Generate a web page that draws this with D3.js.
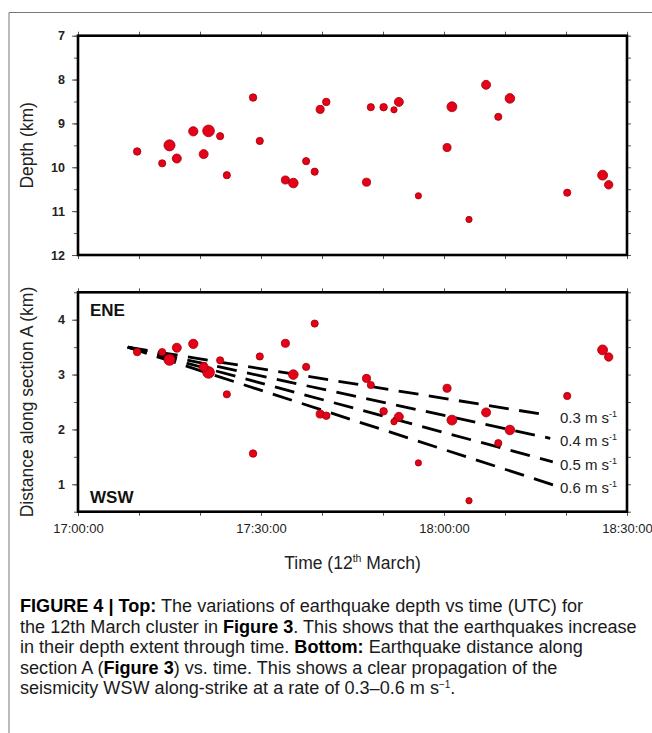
<!DOCTYPE html>
<html><head><meta charset="utf-8">
<script src="https://cdn.jsdelivr.net/npm/d3@7"></script>
<style>
body{margin:0;background:#fff}
svg{display:block;font-family:"Liberation Sans",Arial,Helvetica,sans-serif}
</style>
</head><body>
<svg id="c" width="652" height="733"></svg>
<script>
// ---- data ----
const times = ["17:09:42","17:13:48","17:15:00","17:16:12","17:18:54","17:21:24","17:20:36","17:23:18","17:24:24","17:28:42","17:29:48","17:34:00","17:35:18","17:37:24","17:38:48","17:39:42","17:40:42","17:47:18","17:48:00","17:50:06","17:51:48","17:52:36","17:55:48","18:00:30","18:01:18","18:04:06","18:06:54","18:08:54","18:10:48","18:20:12","18:26:00","18:27:00"];
const depths = [9.64,9.91,9.50,9.80,9.18,9.17,9.70,9.29,10.18,8.41,9.40,10.29,10.36,9.86,10.10,8.68,8.51,10.34,8.63,8.63,8.69,8.51,10.65,9.55,8.62,11.19,8.12,8.85,8.43,10.58,10.18,10.40];
const distances = [3.41,3.41,3.27,3.49,3.56,3.04,3.14,3.26,2.64,1.56,3.33,3.57,3.00,3.14,3.93,2.28,2.25,2.93,2.81,2.33,2.14,2.23,1.39,2.75,2.17,0.70,2.31,1.75,1.99,2.61,3.45,3.32];
const mags = [1.5,1.4,2.7,2.0,2.1,2.9,2.0,1.4,1.4,1.5,1.4,1.7,2.2,1.4,1.4,1.7,1.5,1.7,1.4,1.5,1.1,2.0,1.1,1.7,2.3,1.1,2.0,1.4,2.2,1.4,2.3,1.8];

const depthTicks = [7,8,9,10,11,12];
const depthMinorTicks = [7,7.5,8,8.5,9,9.5,10,10.5,11,11.5,12];
const distTicks = [1,2,3,4];
const distMinorTicks = [0.5,1,1.5,2,2.5,3,3.5,4,4.5];
const timeTickLabels = ["17:00:00","17:30:00","18:00:00","18:30:00"];
const timeMinorTicks = ["17:00:00","17:10:00","17:20:00","17:30:00","17:40:00","17:50:00","18:00:00","18:10:00","18:20:00","18:30:00"];

const speeds = [0.3,0.4,0.5,0.6];              // m/s
const speedStartTime = "17:08:09";
const speedStartDist = 3.5;                      // km
const speedEndTimes = ["18:16:45","18:17:25","18:17:50","18:18:00"];
const speedLabelTime = "18:19:00";
const speedLabels = ["0.3 m s","0.4 m s","0.5 m s","0.6 m s"];

// ---- drawing ----
const parse = d3.timeParse("%H:%M:%S");
const svg = d3.select("#c");

// page frame
svg.append("path").attr("d","M9,733V12.5H652").attr("fill","none").attr("stroke","#777").attr("stroke-width",1);

const L = 78, R = 627;
const x = d3.scaleTime().domain([parse("17:00:00"), parse("18:30:00")]).range([L, R]);
const y1 = d3.scaleLinear().domain([7,12]).range([35.7,255]);
const y2 = d3.scaleLinear().domain([0.5,4.5]).range([511.7,292.3]);
const rS = d3.scaleLinear().domain([1,3]).range([3,6]);

const pts = times.map((t,i)=>({t:parse(t), depth:depths[i], dist:distances[i], m:mags[i]}));

function styleAxis(g){
  g.select(".domain").remove();
  g.selectAll(".tick line").attr("stroke","#555").attr("stroke-width",1);
  g.selectAll(".tick text").attr("fill","#222");
}

function panel(y, yTicks, yMinor, top, bottom, showX){
  svg.append("g").attr("transform",`translate(${L},0)`)
    .call(d3.axisLeft(y).tickValues(yMinor).tickSize(4).tickFormat(""))
    .call(styleAxis);
  svg.append("g").attr("transform",`translate(${L},0)`)
    .call(d3.axisLeft(y).tickValues(yTicks).tickSize(6).tickPadding(7).tickFormat(d3.format("d")))
    .call(styleAxis)
    .call(g=>g.selectAll(".tick text").attr("font-size",12.5).attr("font-weight","bold").attr("font-family","Liberation Sans, Arial, sans-serif"));
  svg.append("g").attr("transform",`translate(${R},0)`)
    .call(d3.axisRight(y).tickValues(yMinor).tickSize(4).tickFormat(""))
    .call(styleAxis);
  svg.append("g").attr("transform",`translate(0,${top})`)
    .call(d3.axisTop(x).tickValues(timeMinorTicks.map(parse)).tickSize(4).tickFormat(""))
    .call(styleAxis);
  svg.append("g").attr("transform",`translate(0,${bottom})`)
    .call(d3.axisBottom(x).tickValues(timeMinorTicks.map(parse)).tickSize(4).tickFormat(""))
    .call(styleAxis);
  if(showX){
    svg.append("g").attr("transform",`translate(0,${bottom})`)
      .call(d3.axisBottom(x).tickValues(timeTickLabels.map(parse)).tickSize(4).tickPadding(8.5).tickFormat(d3.timeFormat("%H:%M:%S")))
      .call(styleAxis)
      .call(g=>g.selectAll(".tick text").attr("font-size",13).attr("font-family","Liberation Sans, Arial, sans-serif"));
  }
}

const t1 = y1.range()[0], b1 = y1.range()[1];
const t2 = y2.range()[1], b2 = y2.range()[0];
panel(y1, depthTicks, depthMinorTicks, t1, b1, false);
panel(y2, distTicks, distMinorTicks, t2, b2, true);

// top panel points
svg.append("g").selectAll("circle").data(pts).join("circle")
  .attr("cx",d=>x(d.t)).attr("cy",d=>y1(d.depth)).attr("r",d=>rS(d.m))
  .attr("fill","#e6001a").attr("stroke","#a10000").attr("stroke-width",0.8);

// speed lines (bottom panel)
const t0 = parse(speedStartTime);
const lineG = svg.append("g");
speeds.forEach((v,i)=>{
  const te = parse(speedEndTimes[i]);
  const dEnd = speedStartDist - v*(te - t0)/1000/1000; // km
  lineG.append("line")
    .attr("x1",x(t0)).attr("y1",y2(speedStartDist))
    .attr("x2",x(te)).attr("y2",y2(dEnd))
    .attr("stroke","#000").attr("stroke-width",2.8)
    .attr("stroke-dasharray","20,10.5");
  const tx = svg.append("text").attr("x",x(parse(speedLabelTime))).attr("y",y2(dEnd)+8)
    .attr("font-size",15).attr("fill","#222");
  tx.append("tspan").text(speedLabels[i]);
  tx.append("tspan").attr("font-size",9).attr("dy",-6).text("-1");
});

// bottom panel points
svg.append("g").selectAll("circle").data(pts).join("circle")
  .attr("cx",d=>x(d.t)).attr("cy",d=>y2(d.dist)).attr("r",d=>rS(d.m))
  .attr("fill","#e6001a").attr("stroke","#a10000").attr("stroke-width",0.8);

// frames
[[t1,b1],[t2,b2]].forEach(([t,b])=>{
  svg.append("rect").attr("x",L).attr("y",t).attr("width",R-L).attr("height",b-t)
    .attr("fill","none").attr("stroke","#000").attr("stroke-width",2.6);
});

// ENE / WSW
svg.append("text").attr("x",90).attr("y",315.5).attr("font-size",17).attr("font-weight","bold").attr("fill","#111").text("ENE");
svg.append("text").attr("x",90).attr("y",502.5).attr("font-size",17).attr("font-weight","bold").attr("fill","#111").text("WSW");

// axis titles
svg.append("text").attr("transform",`translate(33,${(t1+b1)/2}) rotate(-90)`).attr("text-anchor","middle")
  .attr("font-size",17.5).attr("fill","#222").text("Depth (km)");
svg.append("text").attr("transform",`translate(33,${(t2+b2)/2}) rotate(-90)`).attr("text-anchor","middle")
  .attr("font-size",17.5).attr("fill","#222").text("Distance along section A (km)");
const xt = svg.append("text").attr("x",(L+R)/2).attr("y",569).attr("text-anchor","middle")
  .attr("font-size",17.5).attr("fill","#222");
xt.append("tspan").text("Time (12");
xt.append("tspan").attr("font-size",10.5).attr("dy",-7).text("th");
xt.append("tspan").attr("dy",7).text(" March)");

// caption
const cap = [
  [["b","FIGURE 4 | Top:"],["n"," The variations of earthquake depth vs time (UTC) for"]],
  [["n","the 12th March cluster in "],["b","Figure 3"],["n",". This shows that the earthquakes increase"]],
  [["n","in their depth extent through time. "],["b","Bottom:"],["n"," Earthquake distance along"]],
  [["n","section A ("],["b","Figure 3"],["n",") vs. time. This shows a clear propagation of the"]],
  [["n","seismicity WSW along-strike at a rate of 0.3\u20130.6 m s"],["s","\u22121"],["n","."]]
];
const capG = svg.append("g").attr("font-size",16).attr("fill","#1a1a1a");
const capLines = cap.map((parts,i)=>{
  const t = capG.append("text").attr("x",20).attr("y",612+i*20.5);
  parts.forEach(([k,s])=>{
    const sp = t.append("tspan").text(s);
    if(k==="b") sp.attr("font-weight","bold").attr("fill","#000");
    if(k==="s") sp.attr("font-size",10).attr("dy",-6);
  });
  if(parts.some(p=>p[0]==="s")) { t.selectAll("tspan").filter((d,j,n)=>j===n.length-1).attr("dy",6); }
  return t;
});
const w = capLines[1].node().getComputedTextLength();
capG.attr("font-size",16*617/w);
</script>
</body></html>
